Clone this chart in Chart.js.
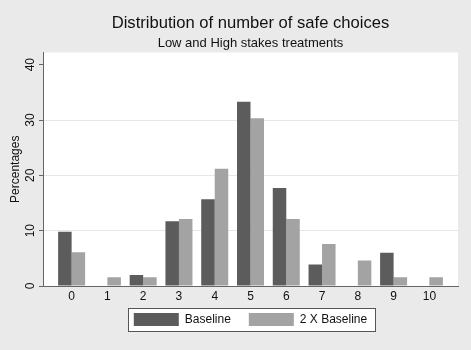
<!DOCTYPE html>
<html>
<head>
<meta charset="utf-8">
<script src="https://cdn.jsdelivr.net/npm/chart.js@4.4.1/dist/chart.umd.min.js"></script>
<style>
  html, body { margin: 0; padding: 0; background: #eaeaea; }
  #c { display: block; }
</style>
</head>
<body>
<canvas id="c" width="471" height="350"></canvas>
<script>
// ===== data =====
const categories = [0, 1, 2, 3, 4, 5, 6, 7, 8, 9, 10];
const baseline = [9.8, 0, 2.0, 11.7, 15.7, 33.3, 17.7, 3.9, 0, 6.0, 0];
const doubleBaseline = [6.1, 1.6, 1.6, 12.1, 21.2, 30.3, 12.1, 7.6, 4.6, 1.6, 1.6];
const yTicks = [0, 10, 20, 30, 40];
const seriesNames = ['Baseline', '2 X Baseline'];

const FONT = "'Liberation Sans', Arial, Helvetica, sans-serif";

// grey page + white plot region
const bgPlugin = {
    id: 'bg',
    beforeDraw(chart) {
        const { ctx, chartArea: a } = chart;
        ctx.save();
        ctx.fillStyle = '#eaeaea';
        ctx.fillRect(0, 0, chart.width, chart.height);
        ctx.fillStyle = '#ffffff';
        ctx.fillRect(a.left, a.top, a.right - a.left, a.bottom - a.top);
        ctx.restore();
    }
};

// frame round the legend, Stata style
function legendRect(chart) {
    const boxes = chart.legend && chart.legend.legendHitBoxes;
    if (!boxes || !boxes.length) return null;
    const first = boxes[0];
    const last = boxes[boxes.length - 1];
    const cy = first.top + first.height / 2;
    const x0 = Math.round(first.left - 6);
    const x1 = Math.round(last.left + last.width + 8);
    return { x: x0, y: Math.round(cy - 11.5), w: x1 - x0, h: 23 };
}

const legendFrame = {
    id: 'legendFrame',
    beforeDraw(chart) {
        const r = legendRect(chart);
        if (!r) return;
        chart.ctx.save();
        chart.ctx.fillStyle = '#ffffff';
        chart.ctx.fillRect(r.x, r.y, r.w, r.h);
        chart.ctx.restore();
    },
    afterDraw(chart) {
        const r = legendRect(chart);
        if (!r) return;
        const ctx = chart.ctx;
        ctx.save();
        ctx.strokeStyle = '#555555';
        ctx.lineWidth = 1;
        ctx.strokeRect(r.x + 0.5, r.y + 0.5, r.w, r.h);
        ctx.restore();
    }
};

const toPoints = vals => categories.map((c, i) => ({ x: c, y: vals[i] }));

new Chart(document.getElementById('c'), {
    type: 'bar',
    data: {
        datasets: [
            {
                label: seriesNames[0],
                data: toPoints(baseline),
                backgroundColor: '#5c5c5c',
                borderWidth: 0
            },
            {
                label: seriesNames[1],
                data: toPoints(doubleBaseline),
                backgroundColor: '#a3a3a3',
                borderWidth: 0
            }
        ]
    },
    options: {
        responsive: false,
        animation: false,
        devicePixelRatio: 1,
        categoryPercentage: 0.755,
        barPercentage: 1,
        layout: { padding: { left: 0, right: 13, top: 0, bottom: 14 } },
        plugins: {
            title: {
                display: true,
                fullSize: false,
                text: 'Distribution of number of safe choices',
                color: '#111',
                font: { family: FONT, size: 16.6, weight: 'normal' },
                padding: { top: 13, bottom: 3 }
            },
            subtitle: {
                display: true,
                fullSize: false,
                text: 'Low and High stakes treatments',
                color: '#111',
                font: { family: FONT, size: 13, weight: 'normal' },
                padding: { top: 0, bottom: 1 }
            },
            legend: {
                position: 'bottom',
                fullSize: false,
                labels: {
                    boxWidth: 45,
                    boxHeight: 13,
                    padding: 18,
                    color: '#111',
                    font: { family: FONT, size: 12 }
                }
            },
            tooltip: { enabled: false }
        },
        scales: {
            x: {
                type: 'linear',
                offset: false,
                min: -0.8,
                max: 10.8,
                afterBuildTicks: s => { s.ticks = categories.map(v => ({ value: v })); },
                afterFit: s => {
                    s.height = 9;
                    // labels hang below the squeezed axis box, so don't clip them
                    s._computeLabelArea = () => null;
                },
                grid: { display: false, drawTicks: false },
                border: { display: true, color: '#666', width: 1 },
                ticks: {
                    padding: 3,
                    color: '#111',
                    font: { family: FONT, size: 12 }
                }
            },
            y: {
                min: 0,
                max: 42.2,
                afterBuildTicks: s => { s.ticks = yTicks.map(v => ({ value: v })); },
                afterFit: s => { s.width = 43; },
                grid: {
                    color: ctx => (ctx.tick && (ctx.tick.value === 0 || ctx.tick.value === 40)) ? 'rgba(0,0,0,0)' : '#e6e6e6',
                    tickColor: '#666',
                    tickLength: 4,
                    lineWidth: 1
                },
                border: { display: true, color: '#666', width: 1 },
                ticks: {
                    minRotation: 90,
                    maxRotation: 90,
                    crossAlign: 'center',
                    padding: 2,
                    color: '#111',
                    font: { family: FONT, size: 12 }
                },
                title: {
                    display: true,
                    text: 'Percentages',
                    color: '#111',
                    font: { family: FONT, size: 12 },
                    padding: { top: 8, bottom: 0 }
                }
            }
        }
    },
    plugins: [bgPlugin, legendFrame]
});
</script>
</body>
</html>
